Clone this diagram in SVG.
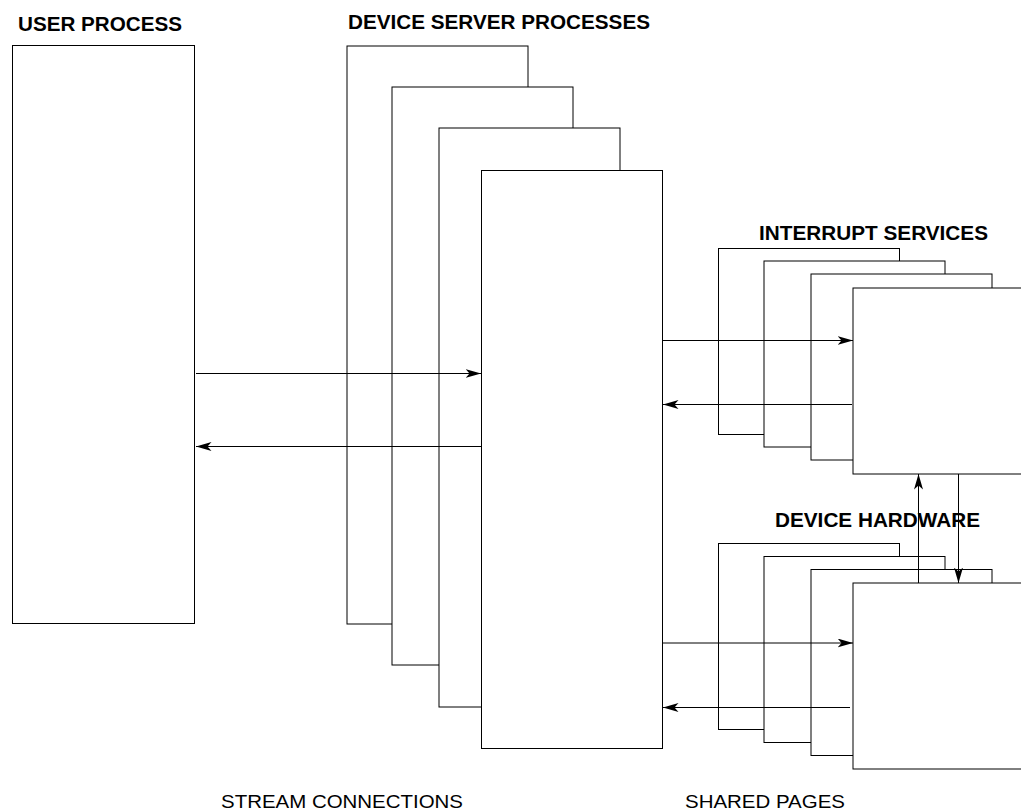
<svg xmlns="http://www.w3.org/2000/svg" width="1021" height="811" viewBox="0 0 1021 811">
<style>
.box{fill:#fff;stroke:#000;stroke-width:1}
.ln{fill:none;stroke:#000;stroke-width:1}
.hd{font-family:"Liberation Sans",Arial,sans-serif;font-weight:bold;font-size:20px;fill:#000}
.lb{font-family:"Liberation Sans",Arial,sans-serif;font-size:18.5px;fill:#000}
</style>
<defs>
<marker id="ah" markerUnits="userSpaceOnUse" markerWidth="17" markerHeight="10" refX="15.5" refY="4.5" orient="auto">
<path d="M0,0 L15.5,4.5 L0,9 L4,4.5 Z" fill="#000"/>
</marker>
</defs>
<rect width="1021" height="811" fill="#fff"/>
<g id="user-process">
<rect class="box" x="12.5" y="45.5" width="182" height="578"/>
<text class="hd" x="18" y="31" textLength="164" lengthAdjust="spacingAndGlyphs">USER PROCESS</text>
</g>
<g id="device-server-processes">
<text class="hd" x="348" y="29" textLength="302" lengthAdjust="spacingAndGlyphs">DEVICE SERVER PROCESSES</text>
<rect id="dsp1" class="box" x="347" y="46" width="181" height="578"/>
<rect id="dsp2" class="box" x="392" y="87" width="181" height="578"/>
<rect id="dsp3" class="box" x="439" y="128" width="181" height="579"/>
<rect id="dsp4" class="box" x="481.5" y="170.5" width="181" height="578"/>
</g>
<g id="interrupt-services">
<text class="hd" x="759" y="240" textLength="229" lengthAdjust="spacingAndGlyphs">INTERRUPT SERVICES</text>
<rect id="is1" class="box" x="718.5" y="248.5" width="181" height="186"/>
<rect id="is2" class="box" x="764" y="261" width="181" height="186"/>
<rect id="is3" class="box" x="811" y="274" width="181" height="186"/>
<rect id="is4" class="box" x="853" y="288" width="200" height="186"/>
</g>
<g id="device-hardware">
<text class="hd" x="775" y="527" textLength="205" lengthAdjust="spacingAndGlyphs">DEVICE HARDWARE</text>
<rect id="dh1" class="box" x="718.5" y="543.5" width="181" height="186"/>
<rect id="dh2" class="box" x="764" y="556.5" width="181" height="186"/>
<rect id="dh3" class="box" x="811" y="569.5" width="181" height="186"/>
<rect id="dh4" class="box" x="853" y="583" width="200" height="186"/>
</g>
<g id="connectors">
<line class="ln" x1="196" y1="373.5" x2="481" y2="373.5" marker-end="url(#ah)"/>
<line class="ln" x1="481" y1="446.5" x2="196" y2="446.5" marker-end="url(#ah)"/>
<line class="ln" x1="663" y1="340.5" x2="853" y2="340.5" marker-end="url(#ah)"/>
<line class="ln" x1="852" y1="404.5" x2="663" y2="404.5" marker-end="url(#ah)"/>
<line class="ln" x1="663" y1="643" x2="853" y2="643" marker-end="url(#ah)"/>
<line class="ln" x1="850" y1="707.5" x2="663" y2="707.5" marker-end="url(#ah)"/>
<line class="ln" x1="918.5" y1="583" x2="918.5" y2="474" marker-end="url(#ah)"/>
<line class="ln" x1="958.5" y1="474" x2="958.5" y2="583" marker-end="url(#ah)"/>
</g>
<g id="labels">
<text class="lb" x="221" y="808" textLength="242" lengthAdjust="spacingAndGlyphs">STREAM CONNECTIONS</text>
<text class="lb" x="685" y="808" textLength="160" lengthAdjust="spacingAndGlyphs">SHARED PAGES</text>
</g>
</svg>
